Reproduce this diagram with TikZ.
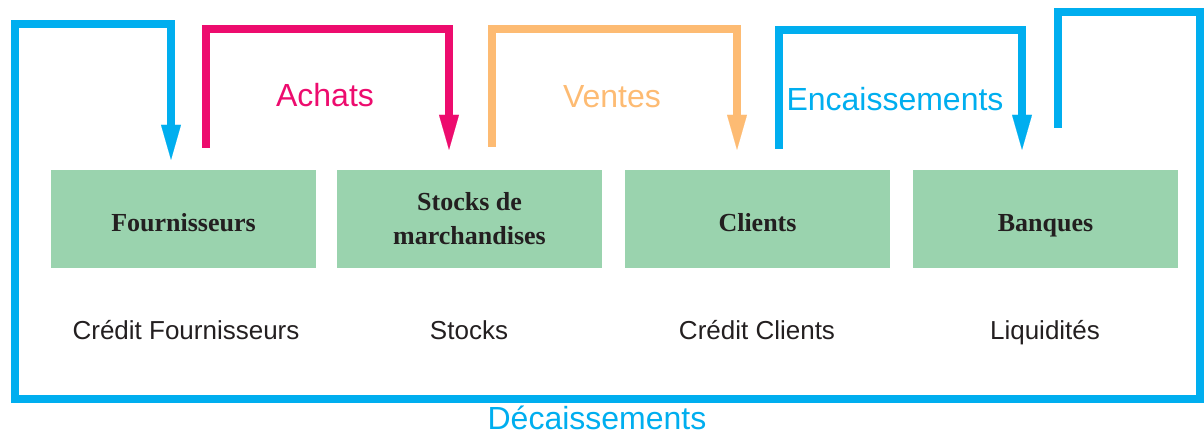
\documentclass[tikz,border=0pt]{standalone}
\usepackage{fontspec}
\setmainfont{Liberation Serif}
\setsansfont{Liberation Sans}
\usepackage{tikz}
\usetikzlibrary{arrows.meta,positioning}

\definecolor{bleu}{RGB}{0,174,239}
\definecolor{rose}{RGB}{237,12,110}
\definecolor{orange}{RGB}{253,187,115}
\definecolor{vert}{RGB}{154,211,174}
\definecolor{encre}{RGB}{35,31,32}

\tikzset{
  compte/.style={fill=vert,minimum width=265pt,minimum height=98pt,inner sep=0pt,
    text=encre,font=\fontsize{26}{34}\selectfont\bfseries},
  uneligne/.style={text height=30pt,text depth=5pt},
  poste/.style={text=encre,anchor=base,font=\sffamily\fontsize{26}{30}\selectfont},
  flux/.style={line width=8pt,-{Triangle[length=35pt,width=20pt,line width=0.1pt]}},
  titre/.style={anchor=base,font=\sffamily\fontsize{32}{36}\selectfont}
}

\begin{document}
\begin{tikzpicture}[x=1pt,y=1pt]
    \useasboundingbox (0,0) rectangle (1204,432);
    \node[compte,uneligne] (four) at (183.5,213) {Fournisseurs};
    \node[compte,align=center] (stk) at (469.5,213) {Stocks de\\marchandises};
    \node[compte,uneligne] (cli) at (757.5,213) {Clients};
    \node[compte,uneligne] (bnq) at (1045.5,213) {Banques};
    \node[poste] (cfour) at (186,92.5) {Crédit Fournisseurs};
    \node[poste] (cstk) at (469,92.5) {Stocks};
    \node[poste] (ccli) at (757,92.5) {Crédit Clients};
    \node[poste] (liq) at (1045,92.5) {Liquidités};
    \draw[flux,rose] ([xshift=22.5pt,yshift=22pt]four.north) -- ++(0,118.5) -| ([xshift=-20.5pt,yshift=20pt]stk.north);
    \draw[flux,orange] ([xshift=22.5pt,yshift=23pt]stk.north) -- ++(0,118) -| ([xshift=-20.5pt,yshift=20pt]cli.north);
    \draw[flux,bleu] ([xshift=21.5pt,yshift=21pt]cli.north) -- ++(0,119) -| ([xshift=-23.5pt,yshift=20pt]bnq.north);
    \draw[flux,bleu] ([xshift=12.5pt,yshift=42pt]bnq.north) -- ++(0,116) -- ++(142,0) -- ++(0,-387)
      -- ++(-1185,0) -- ++(0,374.5) -| ([xshift=-12.5pt,yshift=10pt]four.north);
    \node[titre,rose] (achats) at (325,326) {Achats};
    \node[titre,orange] (ventes) at (612,324) {Ventes};
    \node[titre,bleu] (encais) at (895,322) {Encaissements};
    \node[titre,bleu] (decais) at (597,3) {Décaissements};
  \end{tikzpicture}
\end{document}
